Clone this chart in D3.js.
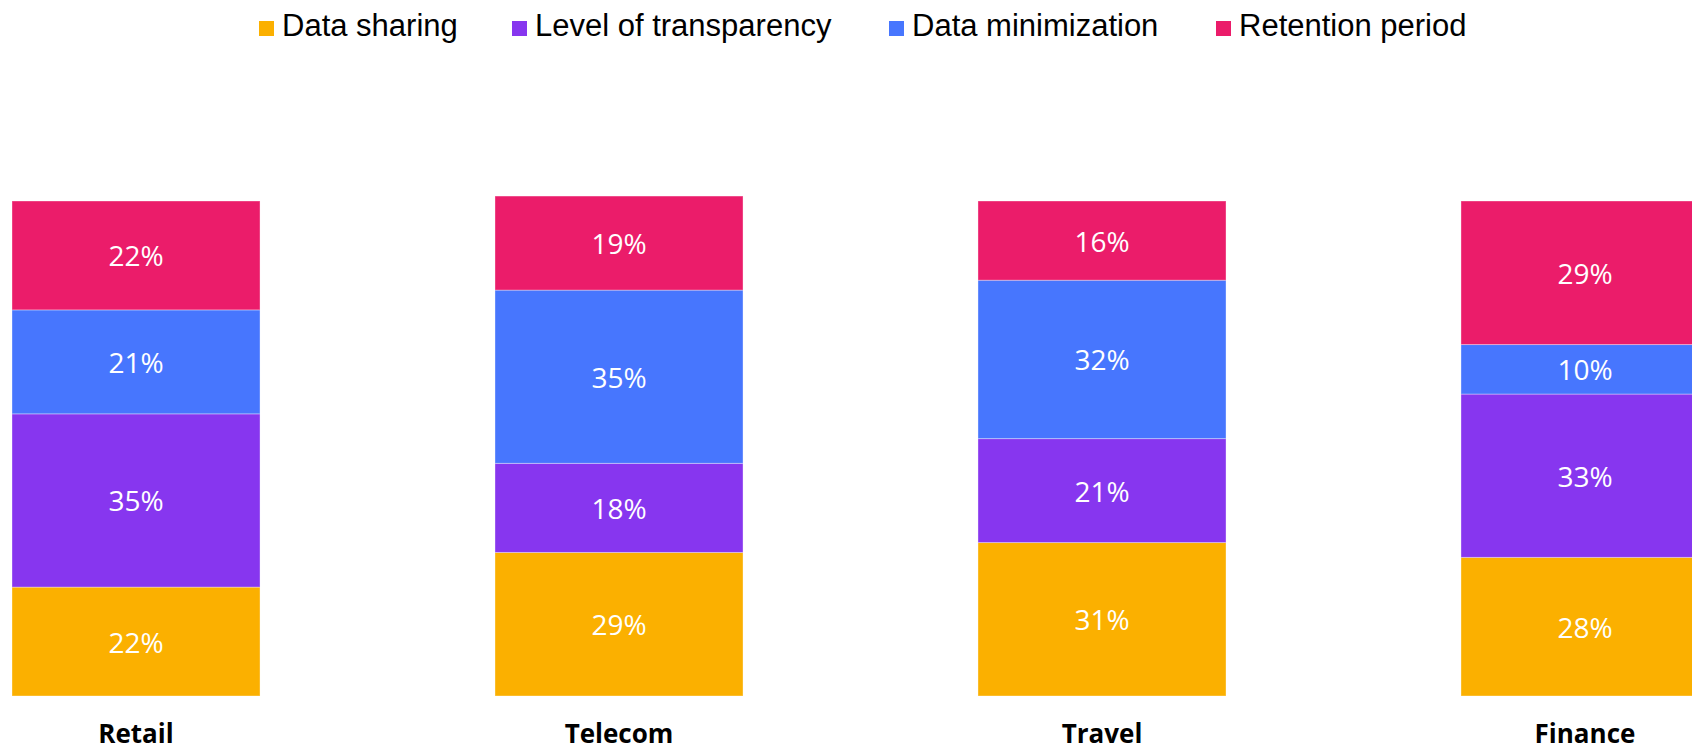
<!DOCTYPE html>
<html lang="en">

<head>
    <meta charset="utf-8">
    <title>Stacked bars by industry</title>
    <script src="https://d3js.org/d3.v7.min.js"></script>
    <style type="text/css">
        body { margin: 0; background: #fff; }
        svg { display: block; }
    </style>
</head>

<body>
    <script type="text/javascript">

        // data
        var categories = ["Retail", "Telecom", "Travel", "Finance"];
        var seriesNames = ["Data sharing", "Level of transparency", "Data minimization", "Retention period"];
        var dataSharing = [22, 29, 31, 28];
        var transparency = [35, 18, 21, 33];
        var minimization = [21, 35, 32, 10];
        var retention = [22, 19, 16, 29];

        var colors = ["#fbb000", "#8736ef", "#4776fe", "#eb1c6a"];

        var w = 1692;
        var h = 750;

        var rows = categories.map(function (c, i) {
            return {
                cat: c,
                "Data sharing": dataSharing[i],
                "Level of transparency": transparency[i],
                "Data minimization": minimization[i],
                "Retention period": retention[i]
            };
        });

        var stack = d3.stack().keys(seriesNames);
        var layers = stack(rows);

        var x = d3.scaleBand()
            .domain(categories)
            .range([12, 1709])
            .paddingInner(0.4865)
            .paddingOuter(0);

        var y = d3.scaleLinear()
            .domain([0, 100])
            .range([696, 201]);

        var color = d3.scaleOrdinal().domain(seriesNames).range(colors);

        var svg = d3.select("body")
            .append("svg")
            .attr("width", w)
            .attr("height", h);

        var groups = svg.selectAll("g.layer")
            .data(layers)
            .enter()
            .append("g")
            .attr("class", "layer")
            .attr("fill", function (d) { return color(d.key); });

        groups.selectAll("rect")
            .data(function (d) { return d; })
            .enter()
            .append("rect")
            .attr("x", function (d) { return x(d.data.cat); })
            .attr("y", function (d) { return y(d[1]); })
            .attr("width", x.bandwidth())
            .attr("height", function (d) { return y(d[0]) - y(d[1]); })
            .attr("stroke", "#ffffff")
            .attr("stroke-opacity", 0.35)
            .attr("stroke-width", 1);

        // value labels
        groups.selectAll("text")
            .data(function (d) { return d; })
            .enter()
            .append("text")
            .text(function (d) { return (d[1] - d[0]) + "%"; })
            .attr("x", function (d) { return x(d.data.cat) + x.bandwidth() / 2; })
            .attr("y", function (d) { return (y(d[0]) + y(d[1])) / 2; })
            .attr("text-anchor", "middle")
            .attr("dominant-baseline", "central")
            .attr("font-family", "'Open Sans', sans-serif")
            .attr("font-size", "28px")
            .attr("fill", "#ffffff");

        // category labels
        svg.selectAll("text.cat")
            .data(categories)
            .enter()
            .append("text")
            .attr("class", "cat")
            .text(function (d) { return d; })
            .attr("x", function (d) { return x(d) + x.bandwidth() / 2; })
            .attr("y", 743)
            .attr("text-anchor", "middle")
            .attr("font-family", "'Open Sans', sans-serif")
            .attr("font-weight", "bold")
            .attr("font-size", "26px")
            .attr("fill", "#000");

        // legend
        var legendX = [259, 512, 889, 1216];
        var legend = svg.selectAll("g.legend")
            .data(seriesNames)
            .enter()
            .append("g")
            .attr("class", "legend")
            .attr("transform", function (d, i) { return "translate(" + legendX[i] + ",0)"; });

        legend.append("rect")
            .attr("x", 0)
            .attr("y", 21)
            .attr("width", 15)
            .attr("height", 15)
            .attr("fill", function (d) { return color(d); });

        legend.append("text")
            .text(function (d) { return d; })
            .attr("x", 23)
            .attr("y", 36)
            .attr("font-family", "'Liberation Sans', Arial, sans-serif")
            .attr("font-size", "31px")
            .attr("fill", "#000");

    </script>
</body>

</html>
